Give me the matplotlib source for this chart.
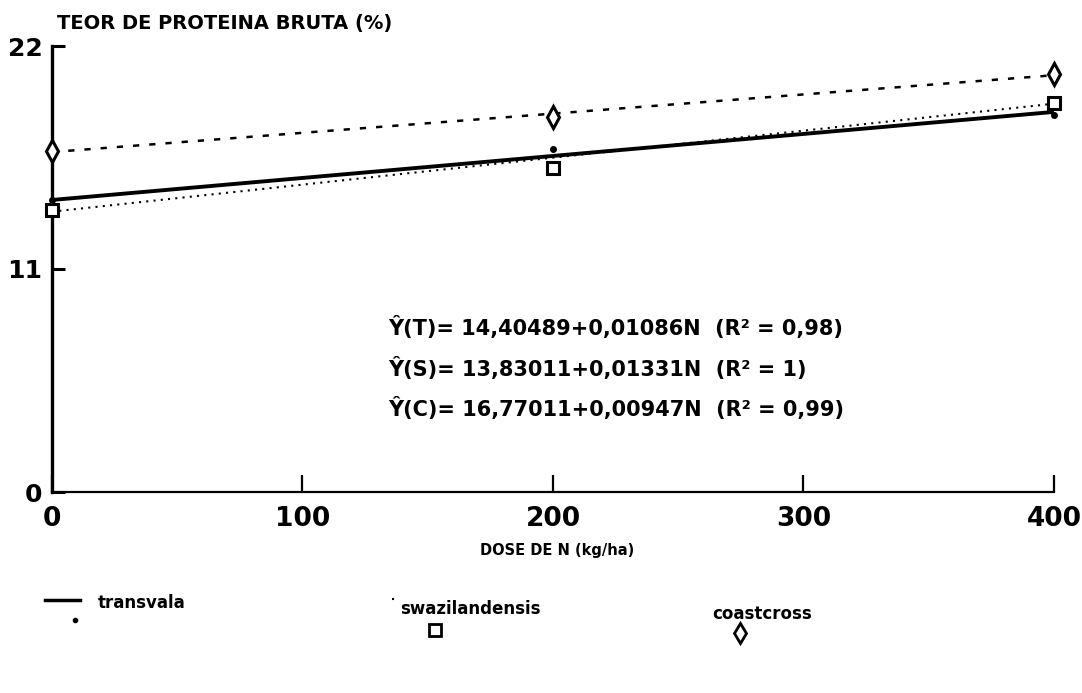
#!/usr/bin/env python3

import numpy as np
import matplotlib
matplotlib.use( 'Agg' )
import matplotlib.pyplot as plt
from matplotlib.lines import Line2D

# doses de N (kg/ha)
dose = [ 0, 200, 400 ]

# teor de proteina bruta (%)
transvala      = [ 14.4, 16.9, 18.6 ]
swazilandensis = [ 13.9, 16.0, 19.2 ]
coastcross     = [ 16.8, 18.5, 20.6 ]

# coeficientes das regressoes (a + b*N)
coef_t = [ 14.40489, 0.01086 ]
coef_s = [ 13.83011, 0.01331 ]
coef_c = [ 16.77011, 0.00947 ]

eq_labels = [
    'Ŷ(T)= 14,40489+0,01086N  (R² = 0,98)',
    'Ŷ(S)= 13,83011+0,01331N  (R² = 1)',
    'Ŷ(C)= 16,77011+0,00947N  (R² = 0,99)',
]

legend_names = [ 'transvala', 'swazilandensis', 'coastcross' ]

x_ticks = [ 0, 100, 200, 300, 400 ]
y_ticks = [ 0, 11, 22 ]

W, H = 1082, 693

def px( x, y ):
    # pixel -> figure coords
    return x / W, 1 - y / H

def main():

    plt.rcParams['font.family'] = [ 'DejaVu Sans' ]
    plt.rcParams['font.weight'] = 'bold'

    fig = plt.figure( figsize=( W / 100, H / 100 ), dpi=100 )
    l, b = px( 52, 492 )
    r, t = px( 1054, 46 )
    ax = fig.add_axes( [ l, b, r - l, t - b ] )

    n = np.array( [ 0, 400 ] )
    ax.plot( n, coef_t[0] + coef_t[1] * n, color='k', lw=2.8, solid_capstyle='butt' )
    ax.plot( n, coef_s[0] + coef_s[1] * n, color='k', lw=1.5, ls=( 0, ( 1, 2.5 ) ) )
    ax.plot( n, coef_c[0] + coef_c[1] * n, color='k', lw=1.8, ls=( 0, ( 2.5, 4 ) ) )

    ax.plot( dose, transvala, 'o', color='k', ms=4, clip_on=False, zorder=5 )
    ax.plot( dose, swazilandensis, 's', mfc='white', mec='k', mew=2.2, ms=9,
             clip_on=False, zorder=5 )
    ax.plot( dose, coastcross, 'd', mfc='white', mec='k', mew=2.2, ms=11,
             clip_on=False, zorder=5 )

    ax.set_xlim( 0, 400 )
    ax.set_ylim( 0, 22 )
    ax.set_xticks( x_ticks )
    ax.set_yticks( y_ticks )
    ax.set_xticklabels( [ str( v ) for v in x_ticks ], fontsize=19, fontweight='bold' )
    ax.set_yticklabels( [ str( v ) for v in y_ticks ], fontsize=18, fontweight='bold' )
    ax.tick_params( axis='x', direction='in', length=12, width=1.6, pad=10 )
    ax.tick_params( axis='y', direction='in', length=9, width=2.2, pad=7 )

    for s in [ 'top', 'right' ]:
        ax.spines[s].set_visible( False )
    ax.spines['left'].set_linewidth( 2.4 )
    ax.spines['bottom'].set_linewidth( 1.6 )

    # equacoes
    for i, txt in enumerate( eq_labels ):
        x, y = px( 388, 328 + i * 40 )
        fig.text( x, y, txt, fontsize=15, fontweight='bold', va='center', ha='left' )

    x, y = px( 57, 24 )
    fig.text( x, y, 'TEOR DE PROTEINA BRUTA (%)', fontsize=14, fontweight='bold',
              va='center', ha='left' )
    x, y = px( 557, 551 )
    fig.text( x, y, 'DOSE DE N (kg/ha)', fontsize=10.5, fontweight='bold',
              va='center', ha='center' )

    # legenda
    x0, yy = px( 45, 600 )
    x1, _ = px( 80, 600 )
    fig.add_artist( Line2D( [ x0, x1 ], [ yy, yy ], color='k', lw=2.5 ) )
    x0, yy = px( 392, 599 )
    x1, _ = px( 398, 599 )
    fig.add_artist( Line2D( [ x0, x1 ], [ yy, yy ], color='k', lw=1.5, ls=( 0, ( 1, 4 ) ) ) )

    for xp, yp, nm in zip( [ 98, 400, 712 ], [ 603, 609, 614 ], legend_names ):
        x, y = px( xp, yp )
        fig.text( x, y, nm, fontsize=12, fontweight='bold', va='center', ha='left' )

    x, y = px( 75, 620 )
    fig.add_artist( Line2D( [ x ], [ y ], marker='o', color='k', ms=3 ) )
    x, y = px( 435, 630 )
    fig.add_artist( Line2D( [ x ], [ y ], marker='s', mfc='white', mec='k', mew=2, ms=8 ) )
    x, y = px( 740, 633 )
    fig.add_artist( Line2D( [ x ], [ y ], marker='d', mfc='white', mec='k', mew=2, ms=10 ) )

    fig.savefig( 'out.png', dpi=100, facecolor='white' )


if __name__ == '__main__':
    main()
